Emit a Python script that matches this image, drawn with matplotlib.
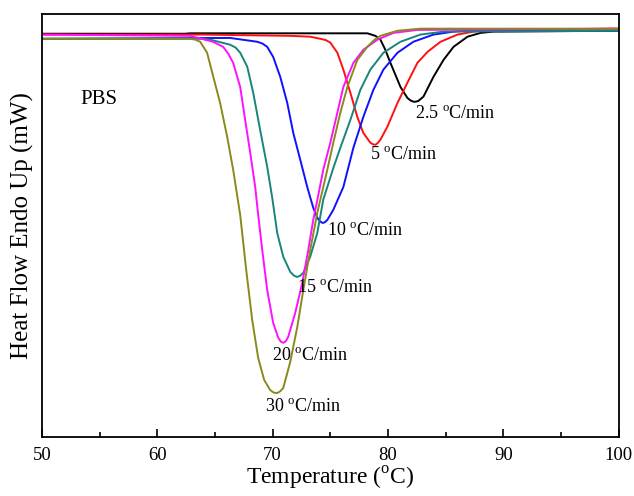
import matplotlib
matplotlib.use("Agg")
import matplotlib.pyplot as plt
from matplotlib.ticker import MultipleLocator

plt.rcParams['font.family'] = ['Liberation Serif', 'DejaVu Serif']
plt.rcParams['mathtext.fontset'] = 'custom'
plt.rcParams['mathtext.rm'] = 'Liberation Serif'

# DSC cooling curves of PBS (temperature in C, heat flow in a.u.)
t_30 = [50.0, 62.85, 63.3, 63.72, 64.32, 64.84, 65.45, 66.06, 66.58, 67.19, 67.71, 68.23,
        68.75, 69.27, 69.79, 70.1, 70.40, 70.65, 70.92, 71.53, 72.14, 72.66, 73.26, 73.87,
        74.74, 75.26, 75.87, 76.48, 77.34, 78.21, 78.8, 79.34, 80.82, 82.81, 100.0]
hf_30 = [9.43, 9.43, 9.41, 9.36, 9.10, 8.55, 7.91, 7.11, 6.33, 5.26, 3.96, 2.77,
         1.87, 1.35, 1.11, 1.05, 1.04, 1.08, 1.16, 1.78, 2.61, 3.48, 4.43, 5.31,
         6.33, 6.97, 7.68, 8.29, 8.93, 9.24, 9.40, 9.50, 9.62, 9.67, 9.67]

t_20 = [50.0, 62.85, 64.84, 65.71, 66.15, 66.58, 67.19, 67.62, 68.06, 68.49, 68.75, 69.10,
        69.53, 70.05, 70.49, 70.7, 70.92, 71.15, 71.35, 71.96, 72.57, 73.09, 73.52, 73.96,
        74.39, 75.00, 75.61, 76.13, 77.00, 77.86, 79.08, 80.47, 82.55, 100.0]
hf_20 = [9.53, 9.50, 9.36, 9.24, 9.08, 8.86, 8.29, 7.51, 6.73, 5.92, 5.26, 4.43,
         3.48, 2.70, 2.35, 2.26, 2.23, 2.27, 2.37, 2.94, 3.65, 4.43, 5.14, 5.73,
         6.33, 6.97, 7.68, 8.29, 8.86, 9.17, 9.41, 9.57, 9.64, 9.67]

t_15 = [50.0, 63.72, 64.58, 66.32, 66.8, 67.19, 67.80, 68.32, 68.92, 69.53, 69.97, 70.40,
        70.92, 71.53, 71.85, 72.14, 72.4, 72.66, 73.26, 73.87, 74.39, 75.26, 75.87, 76.74,
        77.60, 78.47, 79.60, 81.08, 82.81, 84.81, 100.0]
hf_15 = [9.43, 9.43, 9.41, 9.29, 9.22, 9.10, 8.77, 8.15, 7.27, 6.40, 5.66, 4.83,
         4.27, 3.91, 3.82, 3.79, 3.82, 3.89, 4.27, 4.83, 5.62, 6.37, 6.85, 7.51,
         8.22, 8.70, 9.10, 9.36, 9.53, 9.60, 9.62]

t_10 = [50.0, 66.32, 68.66, 69.1, 69.53, 70.05, 70.66, 71.27, 71.79, 72.40, 73.00, 73.52,
        73.87, 74.1, 74.31, 74.5, 74.74, 75.26, 76.13, 77.00, 77.86, 78.73, 79.60, 80.82,
        82.20, 83.94, 85.68, 87.76, 100.0]
hf_10 = [9.43, 9.45, 9.36, 9.32, 9.24, 9.00, 8.53, 7.91, 7.20, 6.56, 5.92, 5.43,
         5.19, 5.11, 5.07, 5.08, 5.14, 5.38, 5.92, 6.85, 7.58, 8.22, 8.70, 9.10,
         9.36, 9.53, 9.60, 9.64, 9.62]

t_5 = [50.0, 63.72, 71.53, 73.26, 74.13, 74.6, 75.00, 75.61, 76.13, 76.74, 77.34, 77.86,
       78.47, 78.7, 78.91, 79.1, 79.34, 79.95, 80.82, 81.68, 82.55, 83.42, 84.55, 86.02,
       87.41, 88.63, 100.0]
hf_5 = [9.53, 9.53, 9.50, 9.48, 9.43, 9.40, 9.34, 9.10, 8.70, 8.15, 7.58, 7.20,
        6.97, 6.93, 6.92, 6.96, 7.04, 7.35, 7.91, 8.39, 8.86, 9.12, 9.36, 9.53,
        9.60, 9.64, 9.67]

t_2p5 = [50.0, 62.41, 62.85, 78.21, 78.91, 79.34, 79.75, 80.21, 81.08, 81.68, 81.95, 82.20,
         82.4, 82.64, 83.07, 83.94, 84.81, 85.68, 86.89, 88.02, 89.15, 100.0]
hf_2p5 = [9.55, 9.55, 9.56, 9.56, 9.50, 9.41, 9.18, 8.86, 8.29, 8.03, 7.97, 7.94,
          7.94, 7.96, 8.06, 8.53, 8.93, 9.24, 9.48, 9.57, 9.60, 9.62]

series = [
    (t_2p5, hf_2p5, 'black', '2.5', (82.38, 7.63)),
    (t_5, hf_5, '#ff1010', '5', (78.47, 6.68)),
    (t_10, hf_10, '#1010ff', '10', (74.74, 4.88)),
    (t_15, hf_15, '#17857c', '15', (72.14, 3.53)),
    (t_20, hf_20, '#ff10ff', '20', (69.97, 1.90)),
    (t_30, hf_30, '#8a8a1c', '30', (69.36, 0.71)),
]

fig = plt.figure(figsize=(6.34, 4.96), dpi=100)
ax = fig.add_axes([0.066, 0.119, 0.910, 0.853])

for t, hf, color, rate, pos in series:
    ax.plot(t, hf, color=color, lw=1.4)
    ax.text(pos[0], pos[1], rate + r' $^{\rm o}$C/min', fontsize=13,
            ha='left', va='center')

ax.text(53.3, 7.99, 'PBS', fontsize=15, ha='left', va='center')

ax.set_xlim(50, 100)
ax.set_ylim(0, 10.02)
ax.xaxis.set_major_locator(MultipleLocator(10))
ax.xaxis.set_minor_locator(MultipleLocator(5))
ax.tick_params(axis='x', which='major', direction='in', length=6, width=1.2,
               labelsize=13.5, pad=7)
ax.tick_params(axis='x', which='minor', direction='in', length=3.5, width=1.2)
ax.set_yticks([])
for s in ax.spines.values():
    s.set_linewidth(1.3)

ax.set_xlabel(r'Temperature ($^{\rm o}$C)', fontsize=17, labelpad=1)
ax.set_ylabel('Heat Flow Endo Up (mW)', fontsize=18, labelpad=6)

fig.savefig('out.png', dpi=100)
